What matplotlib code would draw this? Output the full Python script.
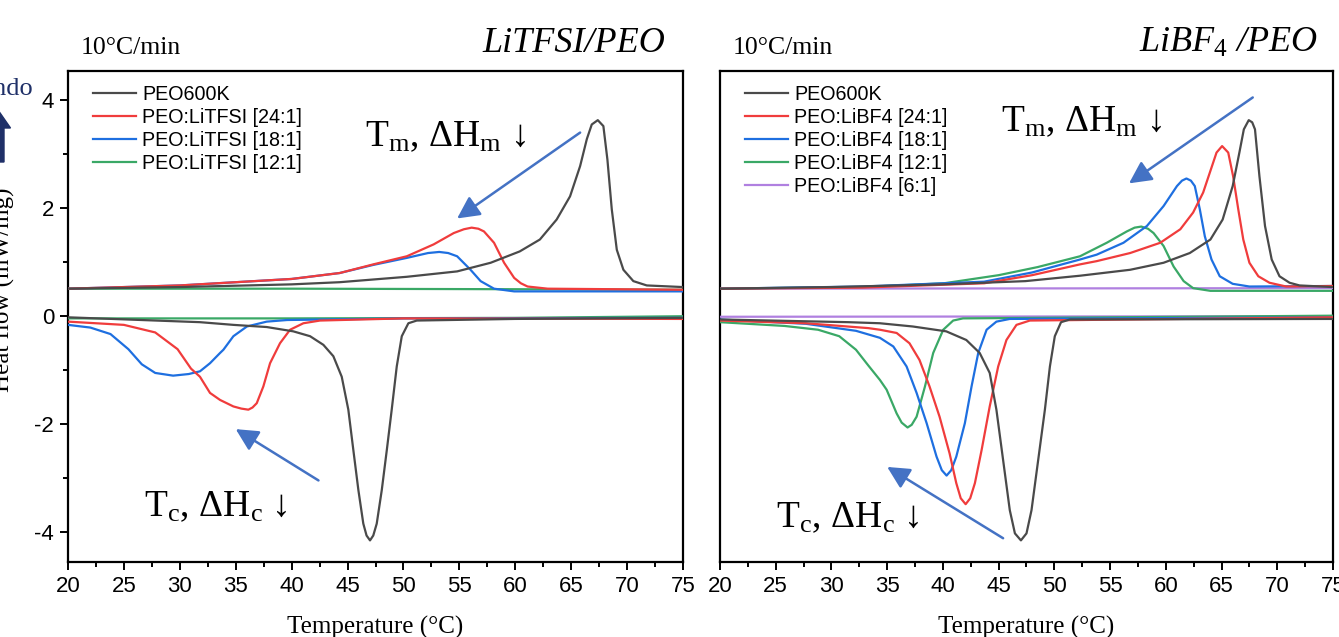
import matplotlib
matplotlib.use("Agg")
import matplotlib.pyplot as plt
from matplotlib.patches import FancyArrow
from matplotlib.ticker import MultipleLocator

plt.rcParams['font.family'] = ['Liberation Sans', 'DejaVu Sans']
plt.rcParams['axes.unicode_minus'] = False
plt.rcParams['mathtext.fontset'] = 'custom'
plt.rcParams['mathtext.rm'] = 'Liberation Serif'
plt.rcParams['mathtext.it'] = 'Liberation Serif:italic'
SERIF = ['Liberation Serif', 'DejaVu Serif']

# ---- LiTFSI/PEO : heating (upper) curves ----
tfsi_peo_heat_t = [20, 30, 40, 44.3, 50.3, 54.8, 57.8, 60.4, 62.2, 63.7, 64.9, 65.8, 66.4, 66.84,
                   67.38, 67.88, 68.24, 68.63, 69.08, 69.67, 70.56, 71.76, 75]
tfsi_peo_heat = [0.50, 0.53, 0.58, 0.62, 0.72, 0.82, 0.98, 1.19, 1.41, 1.78, 2.21, 2.77, 3.27, 3.54,
                 3.62, 3.51, 2.89, 1.97, 1.22, 0.85, 0.64, 0.56, 0.53]
tfsi_24_heat_t = [20, 30, 40, 44.3, 47.3, 50.3, 52.7, 54.5, 55.4, 56.1, 56.7, 57.2, 58.1,
                  59.0, 59.9, 60.5, 61.1, 62.9, 75]
tfsi_24_heat = [0.50, 0.56, 0.68, 0.79, 0.95, 1.10, 1.32, 1.53, 1.60, 1.63, 1.61, 1.56, 1.35,
                0.98, 0.70, 0.60, 0.54, 0.50, 0.48]
tfsi_18_heat_t = [20, 30, 40, 44.3, 47.3, 50.3, 52.2, 53.2, 54.0, 54.8, 56.0, 56.9, 58.1, 59.9, 75]
tfsi_18_heat = [0.50, 0.56, 0.68, 0.79, 0.94, 1.07, 1.16, 1.18, 1.16, 1.10, 0.85, 0.64, 0.50, 0.45, 0.45]
tfsi_12_heat_t = [20, 40, 60, 75]
tfsi_12_heat = [0.50, 0.50, 0.49, 0.48]

# ---- LiTFSI/PEO : cooling (lower) curves ----
tfsi_peo_cool_t = [20, 31.8, 34.8, 37.77, 40.15, 41.65, 42.84, 43.73, 44.48, 45.07, 45.52, 45.97,
                   46.41, 46.7, 47.01, 47.3, 47.61, 48.06, 48.51, 48.95, 49.4, 49.85, 50.44,
                   51.19, 60, 75]
tfsi_peo_cool = [-0.03, -0.12, -0.17, -0.21, -0.29, -0.38, -0.54, -0.75, -1.13, -1.74, -2.49, -3.23,
                 -3.85, -4.07, -4.16, -4.07, -3.85, -3.23, -2.49, -1.74, -0.94, -0.38, -0.14,
                 -0.09, -0.06, -0.04]
tfsi_24_cool_t = [20, 25, 27.8, 29.8, 31.0, 31.8, 32.7, 33.6, 34.79, 35.5, 36.13, 36.5, 36.88,
                  37.47, 38.07, 38.96, 39.86, 41.05, 42.54, 50, 75]
tfsi_24_cool = [-0.11, -0.17, -0.31, -0.62, -0.98, -1.13, -1.43, -1.56, -1.68, -1.72, -1.74, -1.70,
                -1.62, -1.31, -0.88, -0.51, -0.26, -0.14, -0.09, -0.05, -0.06]
tfsi_18_cool_t = [20, 22, 23.8, 25.4, 26.6, 27.8, 29.4, 30.8, 31.8, 32.7, 33.6, 33.9, 34.79,
                  36.0, 37.77, 39.6, 50, 75]
tfsi_18_cool = [-0.17, -0.22, -0.34, -0.62, -0.90, -1.06, -1.11, -1.08, -1.03, -0.88, -0.69, -0.63,
                -0.38, -0.20, -0.11, -0.08, -0.05, -0.04]
tfsi_12_cool_t = [20, 40, 60, 75]
tfsi_12_cool = [-0.05, -0.05, -0.04, -0.01]

# ---- LiBF4/PEO : heating (upper) curves ----
bf4_peo_heat_t = [20, 30, 40, 47.4, 52.3, 56.8, 59.8, 62.15, 64.0, 65.1, 66.0, 66.6, 67.0, 67.44,
                  67.75, 68.0, 68.4, 68.9, 69.5, 70.2, 71.1, 72.0, 75]
bf4_peo_heat = [0.50, 0.53, 0.58, 0.64, 0.74, 0.85, 0.98, 1.16, 1.41, 1.78, 2.40, 3.02, 3.45, 3.62,
                3.58, 3.45, 2.58, 1.66, 1.04, 0.73, 0.61, 0.56, 0.53]
bf4_24_heat_t = [20, 32.8, 43.7, 48, 52.3, 53.8, 56.8, 59.5, 61.3, 62.45, 63.35, 63.95, 64.55,
                 65.05, 65.6, 66.04, 66.5, 66.95, 67.5, 68.3, 69.3, 70.8, 75]
bf4_24_heat = [0.50, 0.52, 0.60, 0.75, 0.95, 1.01, 1.16, 1.35, 1.60, 1.91, 2.28, 2.65, 3.02,
               3.14, 3.02, 2.58, 1.97, 1.41, 0.98, 0.73, 0.61, 0.54, 0.55]
bf4_18_heat_t = [20, 32.8, 43.7, 48, 52.3, 53.8, 56.2, 58.3, 59.8, 61.0, 61.45, 61.85, 62.25,
                 62.6, 63.05, 63.5, 64.1, 64.84, 66.0, 67.5, 75]
bf4_18_heat = [0.50, 0.54, 0.63, 0.80, 1.04, 1.13, 1.35, 1.66, 2.03, 2.40, 2.50, 2.54, 2.50,
               2.40, 1.97, 1.47, 1.04, 0.73, 0.59, 0.54, 0.55]
bf4_12_heat_t = [20, 32.8, 40.1, 45, 48.5, 52.3, 54.7, 56.5, 57.2, 57.8, 58.4, 58.9, 59.8,
                 60.7, 61.6, 62.45, 64.0, 75]
bf4_12_heat = [0.50, 0.53, 0.60, 0.75, 0.90, 1.10, 1.35, 1.56, 1.63, 1.65, 1.61, 1.53, 1.29,
               0.91, 0.64, 0.51, 0.46, 0.46]
bf4_6_heat_t = [20, 75]
bf4_6_heat = [0.50, 0.51]

# ---- LiBF4/PEO : cooling (lower) curves ----
bf4_peo_cool_t = [20, 31.5, 34.35, 37.3, 40.3, 42.1, 43.3, 44.2, 44.8, 45.4, 46.0, 46.46, 47.0,
                  47.5, 47.95, 48.55, 49.15, 49.6, 50.04, 50.6, 51.4, 75]
bf4_peo_cool = [-0.07, -0.12, -0.14, -0.20, -0.29, -0.45, -0.69, -1.06, -1.74, -2.67, -3.60, -4.03,
                -4.16, -4.03, -3.60, -2.67, -1.74, -0.94, -0.38, -0.12, -0.07, -0.06]
bf4_24_cool_t = [20, 27.7, 33.3, 34.35, 35.85, 37.0, 37.9, 38.8, 39.7, 40.6, 41.2, 41.6, 42.04,
                 42.45, 42.87, 43.47, 44.2, 44.96, 45.7, 46.6, 47.8, 75]
bf4_24_cool = [-0.09, -0.14, -0.23, -0.26, -0.32, -0.51, -0.82, -1.31, -1.87, -2.55, -3.10, -3.38,
               -3.49, -3.38, -3.10, -2.49, -1.68, -0.94, -0.45, -0.17, -0.09, -0.03]
bf4_18_cool_t = [20, 27.7, 32.2, 34.35, 35.55, 36.74, 37.64, 38.54, 39.43, 39.9, 40.33, 40.75,
                 41.2, 41.97, 42.57, 43.17, 43.92, 44.8, 46.0, 75]
bf4_18_cool = [-0.07, -0.15, -0.28, -0.41, -0.57, -0.94, -1.43, -1.99, -2.61, -2.86, -2.96, -2.86,
               -2.61, -1.99, -1.31, -0.69, -0.26, -0.11, -0.06, -0.03]
bf4_12_cool_t = [20, 25.8, 28.8, 30.7, 32.2, 33.3, 34.35, 34.95, 35.85, 36.3, 36.83, 37.2, 37.64,
                 38.39, 39.13, 40.03, 40.92, 41.8, 75]
bf4_12_cool = [-0.12, -0.19, -0.26, -0.38, -0.63, -0.92, -1.19, -1.37, -1.81, -1.98, -2.07, -2.02,
               -1.87, -1.31, -0.69, -0.26, -0.09, -0.05, 0.0]
bf4_6_cool_t = [20, 75]
bf4_6_cool = [-0.02, -0.01]

tfsi_labels = ["PEO600K", "PEO:LiTFSI [24:1]", "PEO:LiTFSI [18:1]", "PEO:LiTFSI [12:1]"]
bf4_labels = ["PEO600K", "PEO:LiBF4 [24:1]", "PEO:LiBF4 [18:1]", "PEO:LiBF4 [12:1]", "PEO:LiBF4 [6:1]"]
colores = ['#4a4a4a', '#f03c3c', '#1e6fe0', '#3aa866', '#b080e0']
flecha_color = '#4472c4'

W, H = 1339, 637
fig = plt.figure(figsize=(W / 100, H / 100), dpi=100)
ax1 = fig.add_axes([68 / W, 1 - 562 / H, 615 / W, 491 / H])
ax2 = fig.add_axes([720 / W, 1 - 562 / H, 613 / W, 491 / H])


def dibuja(ax, calentamiento, enfriamiento, etiquetas):
    n = len(etiquetas)
    for i, ((th, yh), (tc, yc)) in enumerate(zip(calentamiento, enfriamiento)):
        z = 3 + (n - i) * 0.01
        ax.plot(th, yh, color=colores[i], lw=1.6, label=etiquetas[i], zorder=z,
                solid_joinstyle='round')
        ax.plot(tc, yc, color=colores[i], lw=1.6, zorder=z, solid_joinstyle='round')
    ax.set_xlim(20, 75)
    ax.set_ylim(-4.56, 4.53)
    ax.xaxis.set_major_locator(MultipleLocator(5))
    ax.xaxis.set_minor_locator(MultipleLocator(2.5))
    ax.yaxis.set_major_locator(MultipleLocator(2))
    ax.yaxis.set_minor_locator(MultipleLocator(1))
    ax.tick_params(which='both', direction='out', width=1.4, labelsize=16, pad=4)
    ax.tick_params(which='major', length=6)
    ax.tick_params(which='minor', length=3.5)
    for sp in ax.spines.values():
        sp.set_linewidth(1.6)
    ax.set_xlabel('Temperature (°C)', family=SERIF, fontsize=18, labelpad=14)
    ax.legend(loc='upper left', bbox_to_anchor=(0.028, 0.988), frameon=False, fontsize=14.2,
              handlelength=2.2, handletextpad=0.3, labelspacing=0.2, borderaxespad=0)
    ax.text(0.02, 1.035, '10°C/min', transform=ax.transAxes, family=SERIF, fontsize=18.5,
            va='baseline', ha='left')


def flecha(ax, cola, punta):
    ax.annotate('', xy=punta, xytext=cola,
                arrowprops=dict(arrowstyle='-|>,head_length=0.75,head_width=0.38', color=flecha_color,
                                lw=1.8, mutation_scale=18, shrinkA=0, shrinkB=0), zorder=5)


dibuja(ax1,
       [(tfsi_peo_heat_t, tfsi_peo_heat), (tfsi_24_heat_t, tfsi_24_heat),
        (tfsi_18_heat_t, tfsi_18_heat), (tfsi_12_heat_t, tfsi_12_heat)],
       [(tfsi_peo_cool_t, tfsi_peo_cool), (tfsi_24_cool_t, tfsi_24_cool),
        (tfsi_18_cool_t, tfsi_18_cool), (tfsi_12_cool_t, tfsi_12_cool)],
       tfsi_labels)
dibuja(ax2,
       [(bf4_peo_heat_t, bf4_peo_heat), (bf4_24_heat_t, bf4_24_heat), (bf4_18_heat_t, bf4_18_heat),
        (bf4_12_heat_t, bf4_12_heat), (bf4_6_heat_t, bf4_6_heat)],
       [(bf4_peo_cool_t, bf4_peo_cool), (bf4_24_cool_t, bf4_24_cool), (bf4_18_cool_t, bf4_18_cool),
        (bf4_12_cool_t, bf4_12_cool), (bf4_6_cool_t, bf4_6_cool)],
       bf4_labels)
ax2.tick_params(axis='y', which='both', left=False, labelleft=False)

# titulos de cada panel
ax1.text(0.971, 1.038, 'LiTFSI/PEO', transform=ax1.transAxes, family=SERIF, style='italic',
         fontsize=26, ha='right', va='baseline')
ax2.text(0.976, 1.038, r'LiBF$_\mathit{4}$ /PEO', transform=ax2.transAxes, family=SERIF, style='italic',
         fontsize=26, ha='right', va='baseline')

# etiquetas Tm / Tc y flechas
tm = r'T$_\mathrm{m}$, ΔH$_\mathrm{m}$ ↓'
tc = r'T$_\mathrm{c}$, ΔH$_\mathrm{c}$ ↓'
ax1.text(46.6, 3.14, tm, family=SERIF, fontsize=27, va='baseline')
ax1.text(26.8, -3.71, tc, family=SERIF, fontsize=27, va='baseline')
ax2.text(45.2, 3.42, tm, family=SERIF, fontsize=27, va='baseline')
ax2.text(25.0, -3.91, tc, family=SERIF, fontsize=27, va='baseline')
flecha(ax1, (65.8, 3.39), (54.8, 1.80))
flecha(ax1, (42.4, -3.05), (35.0, -2.10))
flecha(ax2, (67.8, 4.04), (56.7, 2.45))
flecha(ax2, (45.4, -4.12), (35.0, -2.80))

# eje y comun y marca Endo
fig.text(3 / W, 1 - 290 / H, 'Heat flow (mW/mg)', rotation=90, family=SERIF, fontsize=18,
         ha='center', va='center')
fig.text(33 / W, 1 - 95 / H, 'Endo', family=SERIF, fontsize=19, color='#1f3068',
         ha='right', va='baseline')
endo = FancyArrow(-0.02, (H - 162) / 100, 0, 0.52, width=0.12, head_width=0.25, head_length=0.18,
                  length_includes_head=True, color='#1f3068', transform=fig.dpi_scale_trans)
fig.add_artist(endo)

fig.savefig('out.png', dpi=100)
